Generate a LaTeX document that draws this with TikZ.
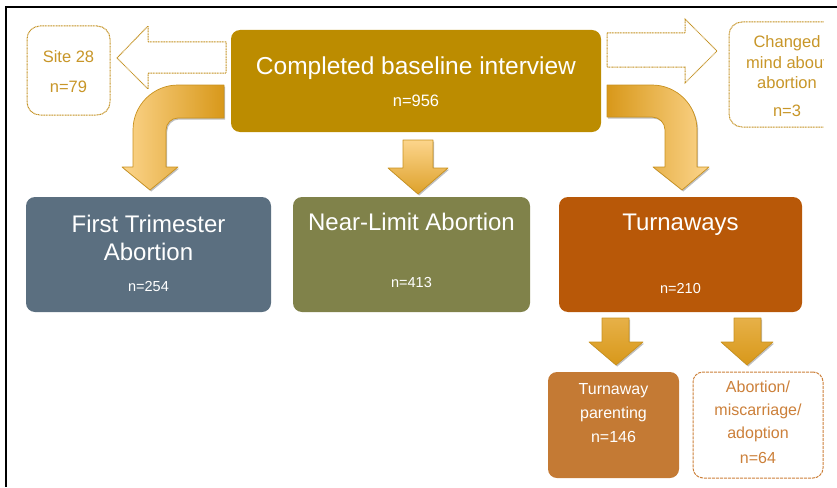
\documentclass[tikz,border=0pt]{standalone}
\usepackage{fontspec}
\setmainfont{Liberation Sans}
\usetikzlibrary{shadows}
\definecolor{gold}{RGB}{188,140,0}
\definecolor{goldtxt}{RGB}{200,150,40}
\definecolor{goldline}{RGB}{196,146,36}
\definecolor{slate}{RGB}{91,111,128}
\definecolor{olive}{RGB}{128,130,74}
\definecolor{rust}{RGB}{184,88,8}
\definecolor{copper}{RGB}{196,122,52}
\definecolor{coppertxt}{RGB}{204,128,58}
\definecolor{arrlight}{RGB}{252,213,140}
\definecolor{arrdark}{RGB}{216,152,26}
\definecolor{arredge}{RGB}{200,145,30}
\tikzset{
  box/.style={draw=none, rounded corners=9pt, inner sep=0pt},
  outlinebox/.style={rounded corners=13pt, inner sep=0pt, fill=white, line width=1pt},
  dotline/.style={draw=goldline, dash pattern=on 1pt off 0.6pt, line width=1pt},
  txt/.style={inner sep=0pt, anchor=base, text=white},
  big/.style={font=\fontsize{24}{28}\selectfont},
  mid/.style={font=\fontsize{16.5}{20}\selectfont},
  small/.style={font=\fontsize{14.5}{18}\selectfont},
  blockarrow/.style={draw=arredge, line width=0.7pt, line join=round,
    drop shadow={shadow xshift=1.2pt, shadow yshift=-1.5pt, opacity=0.25, fill=black}},
  outlinearrow/.style={dotline, fill=white},
}
\begin{document}
\begin{tikzpicture}[x=1pt,y=-1pt]
\useasboundingbox (0,0) rectangle (837,487);
% frame
\draw[line width=2pt] (837,7) -- (6,7) -- (6,487);

% top box
\node[box, fill=gold, minimum width=370pt, minimum height=102pt] (base) at (416,81) {};
\node[txt, font=\fontsize{24.5}{28}\selectfont] (baset) at (416,74.8) {Completed baseline interview};
\node[txt, mid] (basen) at (416,106) {n=956};

% site 28
\node[outlinebox, dotline, minimum width=83pt, minimum height=89pt] (site) at (68.5,70.5) {};
\node[txt, mid, text=goldtxt] (sitet) at (68.5,63) {Site 28};
\node[txt, mid, text=goldtxt] (siten) at (68.5,92) {n=79};

% outline arrows
\path[outlinearrow] (226,42) -- (148,42) -- (148,26) -- (117,58) -- (148,89) -- (148,73) -- (226,73) -- cycle;
\path[outlinearrow] (607,33) -- (685,33) -- (685,19) -- (717,51) -- (685,83) -- (685,67) -- (607,67) -- cycle;

% changed mind box (clipped)
\begin{scope}
\clip (0,0) rectangle (823.5,487);
\node[outlinebox, dotline, minimum width=130pt, minimum height=105pt] (changed) at (794,74.5) {};
\node[txt, mid, text=goldtxt] (ch1) at (787,48) {Changed};
\node[txt, mid, text=goldtxt] (ch2) at (787,68) {mind about};
\node[txt, mid, text=goldtxt] (ch3) at (787,88) {abortion};
\node[txt, mid, text=goldtxt] (ch4) at (787,116) {n=3};
\end{scope}

% curved arrows
\path[blockarrow, left color=arrlight, right color=arrdark]
  (224,85) -- (178,85) arc[start angle=270, end angle=180, radius=45]
  -- (133,167) -- (122,167) -- (150,190) -- (178,167) -- (166,167)
  -- (166,130) arc[start angle=180, end angle=270, radius=12]
  -- (224,118) -- cycle;
\path[blockarrow, left color=arrdark, right color=arrlight]
  (607,85) -- (652,85) arc[start angle=270, end angle=360, radius=45]
  -- (697,167) -- (709,167) -- (682,190) -- (653,167) -- (665,167)
  -- (665,130) arc[start angle=0, end angle=-90, radius=13]
  -- (607,117) -- cycle;
% straight arrow centre
\path[blockarrow, top color=arrlight, bottom color=arrdark!85!arrlight]
  (403,140) -- (433,140) -- (433,168) -- (448,168) -- (418,194) -- (388,168) -- (403,168) -- cycle;

% middle row
\node[box, fill=slate, minimum width=245pt, minimum height=115pt] (first) at (148.5,254.5) {};
\node[txt, big] (firstt1) at (148.5,232.6) {First Trimester};
\node[txt, big] (firstt2) at (148.5,260.6) {Abortion};
\node[txt, small] (firstn) at (148.5,291) {n=254};

\node[box, fill=olive, minimum width=237pt, minimum height=115pt] (near) at (411.5,254.5) {};
\node[txt, big] (neart) at (411.5,230.6) {Near-Limit Abortion};
\node[txt, small] (nearn) at (411.5,287) {n=413};

\node[box, fill=rust, minimum width=243pt, minimum height=115pt] (turn) at (680.5,254.5) {};
\node[txt, big] (turnt) at (680.5,230.6) {Turnaways};
\node[txt, small] (turnn) at (680.5,293) {n=210};

% bottom arrows
\path[blockarrow, top color=arrdark!60!arrlight, bottom color=arrdark]
  (602,318) -- (629,318) -- (629,342) -- (643,342) -- (616,365) -- (589,342) -- (602,342) -- cycle;
\path[blockarrow, top color=arrdark!60!arrlight, bottom color=arrdark]
  (734,318) -- (761,318) -- (761,342) -- (773,342) -- (747,365) -- (721,342) -- (734,342) -- cycle;

% bottom boxes
\node[box, fill=copper, minimum width=131pt, minimum height=106pt] (parent) at (613.5,425) {};
\node[txt, font=\fontsize{16}{20}\selectfont] (parent1) at (613.5,394.7) {Turnaway};
\node[txt, font=\fontsize{16}{20}\selectfont] (parent2) at (613.5,418.7) {parenting};
\node[txt, font=\fontsize{16}{20}\selectfont] (parent3) at (613.5,442.7) {n=146};

\node[outlinebox, rounded corners=10pt, draw=coppertxt, dash pattern=on 3pt off 1pt, minimum width=130pt, minimum height=106pt] (other) at (758,425) {};
\node[txt, text=coppertxt, font=\fontsize{16}{20}\selectfont] (other1) at (758,392.7) {Abortion/};
\node[txt, text=coppertxt, font=\fontsize{16}{20}\selectfont] (other2) at (758,415.7) {miscarriage/};
\node[txt, text=coppertxt, font=\fontsize{16}{20}\selectfont] (other3) at (758,438.7) {adoption};
\node[txt, text=coppertxt, font=\fontsize{16}{20}\selectfont] (other4) at (758,463.7) {n=64};
\end{tikzpicture}
\end{document}
